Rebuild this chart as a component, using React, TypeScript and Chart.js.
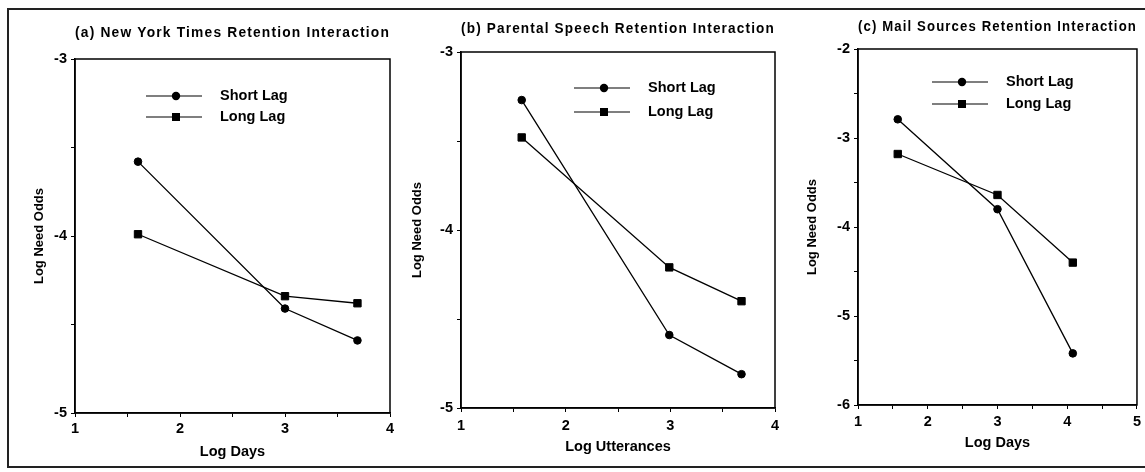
import React, { useEffect, useRef } from 'react';
import { Chart, registerables } from 'chart.js';

Chart.register(...registerables);

// ---- data ----
const seriesNames = ['Short Lag', 'Long Lag'];
const yAxisTitle = 'Log Need Odds';

const nytTitle = '(a) New York Times Retention Interaction';
const nytXTitle = 'Log Days';
const nytX = [1.6, 3.0, 3.69];
const nytShort = [-3.58, -4.41, -4.59];
const nytLong = [-3.99, -4.34, -4.38];
const nytXRange = [1, 4];
const nytYRange = [-5, -3];

const parTitle = '(b) Parental Speech Retention Interaction';
const parXTitle = 'Log Utterances';
const parX = [1.58, 2.99, 3.68];
const parShort = [-3.27, -4.59, -4.81];
const parLong = [-3.48, -4.21, -4.4];
const parXRange = [1, 4];
const parYRange = [-5, -3];

const mailTitle = '(c) Mail Sources Retention Interaction';
const mailXTitle = 'Log Days';
const mailX = [1.57, 3.0, 4.08];
const mailShort = [-2.79, -3.8, -5.42];
const mailLong = [-3.18, -3.64, -4.4];
const mailXRange = [1, 5];
const mailYRange = [-6, -2];

// ---- styles / layout ----
const FONT = '"Liberation Sans", Arial, Helvetica, sans-serif';
const H = 472;

type Layout = {
  left: number; width: number; yAxisW: number; xAxisH: number; padRight: number;
  titleTop: number; titleBottom: number; yTitlePad: number; xTitlePad: number; xTickPad: number;
  legDx: number; legDy: number; legGap: number;
};

const layouts: Layout[] = [
  { left: 0, width: 400, yAxisW: 75, xAxisH: 59, padRight: 10, titleTop: 25, titleBottom: 18, yTitlePad: 32, xTitlePad: 11.6, xTickPad: 3, legDx: 71, legDy: 37, legGap: 21 },
  { left: 400, width: 390, yAxisW: 61, xAxisH: 64, padRight: 15, titleTop: 21, titleBottom: 15, yTitlePad: 10, xTitlePad: 16.6, xTickPad: 5, legDx: 113, legDy: 36, legGap: 24 },
  { left: 790, width: 355, yAxisW: 68, xAxisH: 67, padRight: 7, titleTop: 19.5, titleBottom: 13.5, yTitlePad: 15, xTitlePad: 20.6, xTickPad: 4, legDx: 74, legDy: 33, legGap: 22 },
];

type PanelData = {
  title: string; xTitle: string; x: number[]; short: number[]; long: number[];
  xRange: number[]; yRange: number[];
};

const panels: PanelData[] = [
  { title: nytTitle, xTitle: nytXTitle, x: nytX, short: nytShort, long: nytLong, xRange: nytXRange, yRange: nytYRange },
  { title: parTitle, xTitle: parXTitle, x: parX, short: parShort, long: parLong, xRange: parXRange, yRange: parYRange },
  { title: mailTitle, xTitle: mailXTitle, x: mailX, short: mailShort, long: mailLong, xRange: mailXRange, yRange: mailYRange },
];

const trackingPlugin = {
  id: 'titleTracking',
  beforeDraw(chart: any) {
    const tb = chart.titleBlock;
    if (tb && !tb.__patched) {
      const orig = tb.draw.bind(tb);
      tb.draw = (...args: any[]) => {
        const ctx = chart.ctx;
        ctx.save();
        (ctx as any).letterSpacing = '1.2px';
        orig(...args);
        ctx.restore();
      };
      tb.__patched = true;
    }
  },
};

const frameAndLegendPlugin = {
  id: 'frameAndLegend',
  afterDraw(chart: any) {
    const { ctx, chartArea } = chart;
    const o = chart.options.plugins.frameAndLegend;
    ctx.save();
    ctx.strokeStyle = '#000';
    ctx.lineWidth = 1.5;
    ctx.strokeRect(chartArea.left, chartArea.top, chartArea.right - chartArea.left, chartArea.bottom - chartArea.top);
    chart.data.datasets.forEach((ds: any, i: number) => {
      const x0 = chartArea.left + o.dx;
      const y = chartArea.top + o.dy + i * o.gap;
      ctx.strokeStyle = '#000';
      ctx.lineWidth = 1.2;
      ctx.beginPath();
      ctx.moveTo(x0, y);
      ctx.lineTo(x0 + 56, y);
      ctx.stroke();
      ctx.fillStyle = '#000';
      const cx = x0 + 30;
      if (ds.pointStyle === 'rect') {
        ctx.fillRect(cx - 4, y - 4, 8, 8);
      } else {
        ctx.beginPath();
        ctx.arc(cx, y, 4.2, 0, Math.PI * 2);
        ctx.fill();
      }
      ctx.font = `bold 14.5px ${FONT}`;
      ctx.textAlign = 'left';
      ctx.textBaseline = 'middle';
      ctx.fillText(ds.label, x0 + 74, y);
    });
    ctx.restore();
  },
};

function Panel({ p, l }: { p: PanelData; l: Layout }) {
  const ref = useRef<HTMLCanvasElement>(null);
  useEffect(() => {
    const tickFont = { family: FONT, size: 14.5, weight: 'bold' as const };
    const chart = new Chart(ref.current!, {
      type: 'line',
      data: {
        datasets: [
          {
            label: seriesNames[0],
            data: p.x.map((x, i) => ({ x, y: p.short[i] })),
            borderColor: '#000',
            borderWidth: 1.3,
            pointStyle: 'circle',
            pointRadius: 3.8,
            pointBackgroundColor: '#000',
            pointBorderColor: '#000',
            pointBorderWidth: 1,
            tension: 0,
          },
          {
            label: seriesNames[1],
            data: p.x.map((x, i) => ({ x, y: p.long[i] })),
            borderColor: '#000',
            borderWidth: 1.3,
            pointStyle: 'rect',
            pointRadius: 5.2,
            pointBackgroundColor: '#000',
            pointBorderColor: '#000',
            pointBorderWidth: 1,
            tension: 0,
          },
        ],
      },
      options: {
        animation: false,
        responsive: false,
        events: [],
        layout: { padding: { left: 0, right: l.padRight, top: 0, bottom: 0 } },
        plugins: {
          legend: { display: false },
          tooltip: { enabled: false },
          title: {
            display: true,
            text: p.title,
            fullSize: false,
            color: '#000',
            font: { family: FONT, size: 14, weight: 'bold', lineHeight: '16px' } as any,
            padding: { top: l.titleTop, bottom: l.titleBottom },
          },
          frameAndLegend: { dx: l.legDx, dy: l.legDy, gap: l.legGap },
        } as any,
        scales: {
          x: {
            type: 'linear',
            min: p.xRange[0],
            max: p.xRange[1],
            afterFit: (s: any) => { s.height = l.xAxisH; },
            ticks: {
              stepSize: 0.5,
              autoSkip: false,
              maxRotation: 0,
              color: '#000',
              font: tickFont,
              padding: l.xTickPad,
              callback: (v: any) => (Number.isInteger(Number(v)) ? String(v) : ''),
            },
            grid: { drawOnChartArea: false, tickLength: 4, color: '#000', tickWidth: 1 },
            border: { color: '#000', width: 1.5 },
            title: {
              display: true,
              text: p.xTitle,
              color: '#000',
              font: { family: FONT, size: 14.5, weight: 'bold' },
              padding: { top: 0, bottom: l.xTitlePad },
            },
          },
          y: {
            type: 'linear',
            min: p.yRange[0],
            max: p.yRange[1],
            afterFit: (s: any) => { s.width = l.yAxisW; },
            ticks: {
              stepSize: 0.5,
              autoSkip: false,
              color: '#000',
              font: tickFont,
              padding: 4,
              callback: (v: any) => (Number.isInteger(Number(v)) ? String(v) : ''),
            },
            grid: { drawOnChartArea: false, tickLength: 4, color: '#000', tickWidth: 1 },
            border: { color: '#000', width: 1.5 },
            title: {
              display: true,
              text: yAxisTitle,
              color: '#000',
              font: { family: FONT, size: 13, weight: 'bold' },
              padding: { top: l.yTitlePad, bottom: 0 },
            },
          },
        },
      },
      plugins: [trackingPlugin, frameAndLegendPlugin],
    });
    return () => chart.destroy();
  }, []);
  return (
    <canvas
      ref={ref}
      width={l.width}
      height={H}
      style={{ position: 'absolute', left: l.left, top: 0, width: l.width, height: H }}
    />
  );
}

export default function App() {
  return (
    <div style={{ position: 'absolute', left: 0, top: 0, width: 1145, height: H, background: '#fff', overflow: 'hidden' }}>
      <div
        style={{
          position: 'absolute', left: 7, top: 8, width: 1160, height: 460,
          borderTop: '2px solid #222', borderLeft: '2px solid #222', borderBottom: '2px solid #222',
          boxSizing: 'border-box',
        }}
      />
      {panels.map((p, i) => (
        <Panel key={i} p={p} l={layouts[i]} />
      ))}
    </div>
  );
}
